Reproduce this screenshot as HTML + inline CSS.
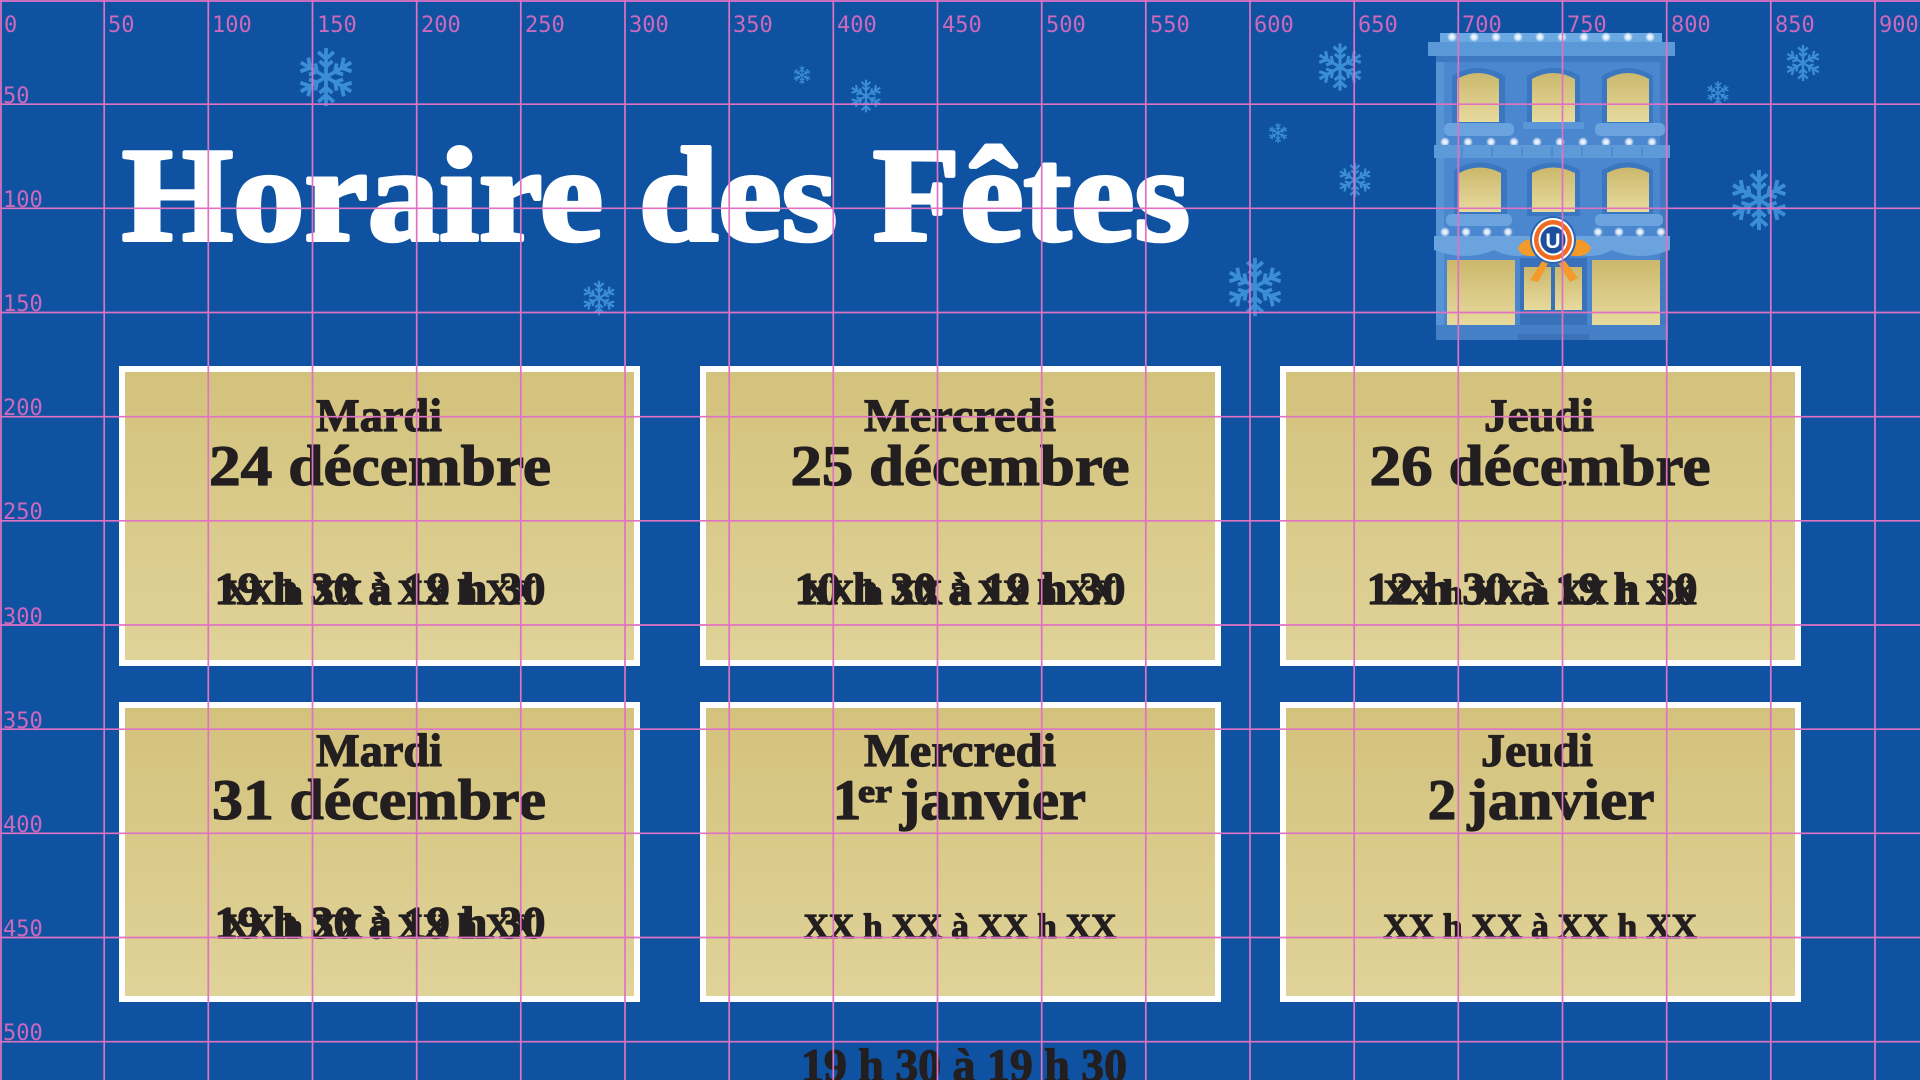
<!DOCTYPE html>
<html>
<head>
<meta charset="utf-8">
<style>
  html,body{margin:0;padding:0;background:#0f52a1;}
  svg{display:block;}
</style>
</head>
<body>
<svg width="1920" height="1080" viewBox="0 0 1920 1080" xmlns="http://www.w3.org/2000/svg">
  <defs>
    <linearGradient id="gold" x1="0" y1="0" x2="0" y2="1">
      <stop offset="0" stop-color="#d3c27c"/>
      <stop offset="1" stop-color="#e0d399"/>
    </linearGradient>
    <linearGradient id="win" x1="0" y1="0" x2="0" y2="1">
      <stop offset="0" stop-color="#cbb86c"/>
      <stop offset="1" stop-color="#e7da9e"/>
    </linearGradient>
    <radialGradient id="glow">
      <stop offset="0" stop-color="#ffffff"/>
      <stop offset="0.5" stop-color="#f4f8ff" stop-opacity="0.8"/>
      <stop offset="1" stop-color="#ffffff" stop-opacity="0"/>
    </radialGradient>
    <symbol id="sf" viewBox="-1.1 -1.1 2.2 2.2">
      <g stroke="#3a8dd6" stroke-width="0.13" stroke-linecap="butt" fill="none">
        <g id="arm">
          <path d="M0,0 L0,-1 M0,-0.62 L-0.27,-0.86 M0,-0.62 L0.27,-0.86 M0,-0.36 L-0.22,-0.55 M0,-0.36 L0.22,-0.55"/>
        </g>
        <use href="#arm" transform="rotate(60)"/>
        <use href="#arm" transform="rotate(120)"/>
        <use href="#arm" transform="rotate(180)"/>
        <use href="#arm" transform="rotate(240)"/>
        <use href="#arm" transform="rotate(300)"/>
      </g>
    </symbol>
  </defs>

  <rect x="0" y="0" width="1920" height="1080" fill="#0f52a1"/>

  <!-- snowflakes -->
  <use href="#sf" x="294" y="45" width="64" height="64"/>
  <use href="#sf" x="580" y="279" width="38" height="38"/>
  <use href="#sf" x="792" y="65" width="20" height="20"/>
  <use href="#sf" x="848" y="78" width="36" height="36"/>
  <use href="#sf" x="1314" y="41" width="52" height="52"/>
  <use href="#sf" x="1267" y="122" width="22" height="22"/>
  <use href="#sf" x="1336" y="161" width="38" height="38"/>
  <use href="#sf" x="1223" y="255" width="64" height="64"/>
  <use href="#sf" x="1726" y="167" width="66" height="66"/>
  <use href="#sf" x="1783" y="43" width="40" height="40"/>
  <use href="#sf" x="1705" y="80" width="26" height="26"/>

  <!-- title -->
  <text x="122" y="240" font-family="'Liberation Serif', serif" font-weight="bold" font-size="134" fill="#ffffff" stroke="#ffffff" stroke-width="4" stroke-linejoin="round" textLength="1068" lengthAdjust="spacingAndGlyphs">Horaire des Fêtes</text>

  <!-- building -->
  <g>
    <rect x="1436" y="55" width="232" height="285" fill="#4a87cf"/>
    <rect x="1436" y="55" width="8" height="285" fill="#5694d6"/>
    <rect x="1660" y="55" width="8" height="285" fill="#3f79c0"/>
    <rect x="1440" y="33" width="222" height="10" fill="#6aa8e2"/>
    <rect x="1428" y="42" width="247" height="14" fill="#5b98d8"/>
    <rect x="1436" y="56" width="232" height="6" fill="#3e79c1"/>
    <g fill="url(#glow)">
      <circle cx="1452" cy="37" r="5"/><circle cx="1474" cy="37" r="5"/><circle cx="1496" cy="37" r="5"/>
      <circle cx="1518" cy="37" r="5"/><circle cx="1540" cy="37" r="5"/><circle cx="1562" cy="37" r="5"/>
      <circle cx="1584" cy="37" r="5"/><circle cx="1606" cy="37" r="5"/><circle cx="1628" cy="37" r="5"/>
      <circle cx="1650" cy="37" r="5"/>
    </g>
    <g fill="#3b77c0">
      <path d="M1452,126 L1452,76 Q1478,60 1505,76 L1505,126 Z"/>
      <path d="M1527,126 L1527,76 Q1553,60 1580,76 L1580,126 Z"/>
      <path d="M1602,126 L1602,76 Q1628,60 1653,76 L1653,126 Z"/>
    </g>
    <g fill="url(#win)">
      <path d="M1457,122 L1457,79 Q1478,67 1499,79 L1499,122 Z"/>
      <path d="M1532,122 L1532,79 Q1553,67 1575,79 L1575,122 Z"/>
      <path d="M1607,122 L1607,79 Q1628,67 1649,79 L1649,122 Z"/>
    </g>
    <rect x="1523" y="122" width="61" height="7" fill="#5a97d8"/>
    <rect x="1444" y="123" width="70" height="13" rx="5" fill="#6aa3dd"/>
    <rect x="1595" y="123" width="70" height="13" rx="5" fill="#6aa3dd"/>
    <g fill="url(#glow)">
      <circle cx="1445" cy="142" r="5"/><circle cx="1468" cy="142" r="5"/><circle cx="1491" cy="142" r="5"/>
      <circle cx="1514" cy="142" r="5"/><circle cx="1537" cy="142" r="5"/><circle cx="1560" cy="142" r="5"/>
      <circle cx="1583" cy="142" r="5"/><circle cx="1606" cy="142" r="5"/><circle cx="1629" cy="142" r="5"/>
      <circle cx="1652" cy="142" r="5"/>
    </g>
    <rect x="1434" y="145" width="236" height="13" fill="#5e9ad8"/>
    <g stroke="#4a86cc" stroke-width="1.5">
      <line x1="1462" y1="147" x2="1462" y2="157"/><line x1="1492" y1="147" x2="1492" y2="157"/>
      <line x1="1522" y1="147" x2="1522" y2="157"/><line x1="1552" y1="147" x2="1552" y2="157"/>
      <line x1="1582" y1="147" x2="1582" y2="157"/><line x1="1612" y1="147" x2="1612" y2="157"/>
      <line x1="1642" y1="147" x2="1642" y2="157"/>
    </g>
    <g fill="#3b77c0">
      <path d="M1454,216 L1454,170 Q1480,155 1507,170 L1507,216 Z"/>
      <path d="M1527,216 L1527,170 Q1553,155 1580,170 L1580,216 Z"/>
      <path d="M1602,216 L1602,170 Q1628,155 1653,170 L1653,216 Z"/>
    </g>
    <g fill="url(#win)">
      <path d="M1459,212 L1459,173 Q1480,162 1501,173 L1501,212 Z"/>
      <path d="M1532,212 L1532,173 Q1553,162 1575,173 L1575,212 Z"/>
      <path d="M1607,212 L1607,173 Q1628,162 1649,173 L1649,212 Z"/>
    </g>
    <rect x="1446" y="214" width="66" height="12" rx="5" fill="#6aa3dd"/>
    <rect x="1595" y="214" width="68" height="12" rx="5" fill="#6aa3dd"/>
    <path d="M1434,236 L1670,236 L1670,250 Q1640,262 1612,250 Q1590,262 1568,250 L1540,250 Q1518,262 1494,250 Q1466,262 1434,250 Z" fill="#6aa3dd"/>
    <g fill="url(#glow)">
      <circle cx="1445" cy="232" r="5"/><circle cx="1466" cy="232" r="5"/><circle cx="1487" cy="232" r="5"/>
      <circle cx="1508" cy="232" r="5"/><circle cx="1598" cy="232" r="5"/><circle cx="1619" cy="232" r="5"/>
      <circle cx="1640" cy="232" r="5"/><circle cx="1661" cy="232" r="5"/>
    </g>
    <rect x="1447" y="260" width="68" height="65" fill="url(#win)"/>
    <rect x="1592" y="260" width="68" height="65" fill="url(#win)"/>
    <rect x="1520" y="258" width="67" height="79" fill="#3a72ba"/>
    <rect x="1524" y="267" width="27" height="43" fill="url(#win)"/>
    <rect x="1555" y="267" width="27" height="43" fill="url(#win)"/>
    <rect x="1436" y="325" width="232" height="15" fill="#4580c7"/>
    <rect x="1518" y="334" width="71" height="6" fill="#3b72b8"/>
    <g fill="#f39a2b">
      <path d="M1550,246 Q1525,232 1518,248 Q1522,262 1550,252 Z"/>
      <path d="M1556,246 Q1582,232 1591,248 Q1586,262 1556,252 Z"/>
      <path d="M1548,252 L1530,280 L1538,282 L1552,256 Z"/>
      <path d="M1558,252 L1578,278 L1570,282 L1554,256 Z"/>
    </g>
    <ellipse cx="1553" cy="240" rx="23" ry="24" fill="#2d66b4"/>
    <ellipse cx="1553" cy="240" rx="21" ry="22" fill="#ffffff"/>
    <ellipse cx="1553" cy="240" rx="19" ry="20" fill="#ee6b1f"/>
    <ellipse cx="1553" cy="240" rx="14.5" ry="15.5" fill="#ffffff"/>
    <ellipse cx="1553" cy="240" rx="12.5" ry="13.5" fill="#1c509e"/>
    <text x="1553" y="248" text-anchor="middle" font-family="'Liberation Sans', sans-serif" font-weight="bold" font-size="21" fill="#ffffff">U</text>
  </g>

  <!-- cards -->
  <g stroke="#ffffff" stroke-width="6" fill="url(#gold)">
    <rect x="122" y="369" width="515" height="294"/>
    <rect x="703" y="369" width="515" height="294"/>
    <rect x="1283" y="369" width="515" height="294"/>
    <rect x="122" y="705" width="515" height="294"/>
    <rect x="703" y="705" width="515" height="294"/>
    <rect x="1283" y="705" width="515" height="294"/>
  </g>

  <g font-family="'Liberation Serif', serif" font-weight="bold" fill="#231f20" stroke="#231f20" stroke-width="1.2" stroke-linejoin="round" text-anchor="middle">
    <text x="379" y="431" font-size="47" textLength="126" lengthAdjust="spacingAndGlyphs">Mardi</text>
    <text x="380" y="485" font-size="57" textLength="342" lengthAdjust="spacingAndGlyphs">24 décembre</text>
    <text x="380" y="604" font-size="46" textLength="331" lengthAdjust="spacingAndGlyphs">19 h 30 à 19 h 30</text>
    <text x="380" y="604" font-size="35" textLength="313" lengthAdjust="spacingAndGlyphs">XX h XX à XX h XX</text>

    <text x="960" y="431" font-size="47" textLength="192" lengthAdjust="spacingAndGlyphs">Mercredi</text>
    <text x="960" y="485" font-size="57" textLength="339" lengthAdjust="spacingAndGlyphs">25 décembre</text>
    <text x="960" y="604" font-size="46" textLength="331" lengthAdjust="spacingAndGlyphs">10 h 30 à 19 h 30</text>
    <text x="960" y="604" font-size="35" textLength="313" lengthAdjust="spacingAndGlyphs">XX h XX à XX h XX</text>

    <text x="1539" y="431" font-size="47" textLength="110" lengthAdjust="spacingAndGlyphs">Jeudi</text>
    <text x="1540" y="485" font-size="57" textLength="341" lengthAdjust="spacingAndGlyphs">26 décembre</text>
    <text x="1532" y="604" font-size="46" textLength="331" lengthAdjust="spacingAndGlyphs">12 h 30 à 19 h 30</text>
    <text x="1540" y="604" font-size="35" textLength="313" lengthAdjust="spacingAndGlyphs">XX h XX à XX h XX</text>

    <text x="379" y="766" font-size="47" textLength="126" lengthAdjust="spacingAndGlyphs">Mardi</text>
    <text x="379" y="819" font-size="57" textLength="334" lengthAdjust="spacingAndGlyphs">31 décembre</text>
    <text x="380" y="938" font-size="46" textLength="331" lengthAdjust="spacingAndGlyphs">19 h 30 à 19 h 30</text>
    <text x="380" y="938" font-size="35" textLength="313" lengthAdjust="spacingAndGlyphs">XX h XX à XX h XX</text>

    <text x="960" y="766" font-size="47" textLength="192" lengthAdjust="spacingAndGlyphs">Mercredi</text>
    <text x="847" y="819" font-size="57">1</text>
    <text x="875" y="802" font-size="32" textLength="34" lengthAdjust="spacingAndGlyphs">er</text>
    <text x="993" y="819" font-size="57" textLength="186" lengthAdjust="spacingAndGlyphs">janvier</text>
    <text x="960" y="938" font-size="35" textLength="313" lengthAdjust="spacingAndGlyphs">XX h XX à XX h XX</text>

    <text x="1537" y="766" font-size="47" textLength="112" lengthAdjust="spacingAndGlyphs">Jeudi</text>
    <text x="1442" y="819" font-size="57">2</text>
    <text x="1561" y="819" font-size="57" textLength="187" lengthAdjust="spacingAndGlyphs">janvier</text>
    <text x="1540" y="938" font-size="35" textLength="314" lengthAdjust="spacingAndGlyphs">XX h XX à XX h XX</text>

    <text x="964" y="1081" font-size="47" textLength="326" lengthAdjust="spacingAndGlyphs">19 h 30 à 19 h 30</text>
  </g>

  <!-- grid -->
  <g stroke="#e072c4" stroke-width="1.7">
    <line x1="1" y1="0" x2="1" y2="1080"/>
    <line x1="104.2" y1="0" x2="104.2" y2="1080"/>
    <line x1="208.3" y1="0" x2="208.3" y2="1080"/>
    <line x1="312.5" y1="0" x2="312.5" y2="1080"/>
    <line x1="416.7" y1="0" x2="416.7" y2="1080"/>
    <line x1="520.8" y1="0" x2="520.8" y2="1080"/>
    <line x1="625" y1="0" x2="625" y2="1080"/>
    <line x1="729.2" y1="0" x2="729.2" y2="1080"/>
    <line x1="833.3" y1="0" x2="833.3" y2="1080"/>
    <line x1="937.5" y1="0" x2="937.5" y2="1080"/>
    <line x1="1041.7" y1="0" x2="1041.7" y2="1080"/>
    <line x1="1145.8" y1="0" x2="1145.8" y2="1080"/>
    <line x1="1250" y1="0" x2="1250" y2="1080"/>
    <line x1="1354.2" y1="0" x2="1354.2" y2="1080"/>
    <line x1="1458.3" y1="0" x2="1458.3" y2="1080"/>
    <line x1="1562.5" y1="0" x2="1562.5" y2="1080"/>
    <line x1="1666.7" y1="0" x2="1666.7" y2="1080"/>
    <line x1="1770.8" y1="0" x2="1770.8" y2="1080"/>
    <line x1="1875" y1="0" x2="1875" y2="1080"/>
    <line x1="0" y1="1" x2="1920" y2="1"/>
    <line x1="0" y1="104.2" x2="1920" y2="104.2"/>
    <line x1="0" y1="208.3" x2="1920" y2="208.3"/>
    <line x1="0" y1="312.5" x2="1920" y2="312.5"/>
    <line x1="0" y1="416.7" x2="1920" y2="416.7"/>
    <line x1="0" y1="520.8" x2="1920" y2="520.8"/>
    <line x1="0" y1="625" x2="1920" y2="625"/>
    <line x1="0" y1="729.2" x2="1920" y2="729.2"/>
    <line x1="0" y1="833.3" x2="1920" y2="833.3"/>
    <line x1="0" y1="937.5" x2="1920" y2="937.5"/>
    <line x1="0" y1="1041.7" x2="1920" y2="1041.7"/>
  </g>
  <g font-family="'DejaVu Sans Mono', monospace" font-size="22" fill="#e26cbf" fill-opacity="0.9">
    <text x="4" y="32">0</text>
    <text x="108" y="32">50</text>
    <text x="212" y="32">100</text>
    <text x="317" y="32">150</text>
    <text x="421" y="32">200</text>
    <text x="525" y="32">250</text>
    <text x="629" y="32">300</text>
    <text x="733" y="32">350</text>
    <text x="837" y="32">400</text>
    <text x="942" y="32">450</text>
    <text x="1046" y="32">500</text>
    <text x="1150" y="32">550</text>
    <text x="1254" y="32">600</text>
    <text x="1358" y="32">650</text>
    <text x="1462" y="32">700</text>
    <text x="1567" y="32">750</text>
    <text x="1671" y="32">800</text>
    <text x="1775" y="32">850</text>
    <text x="1879" y="32">900</text>
    <text x="3" y="103">50</text>
    <text x="3" y="207">100</text>
    <text x="3" y="311">150</text>
    <text x="3" y="415">200</text>
    <text x="3" y="519">250</text>
    <text x="3" y="624">300</text>
    <text x="3" y="728">350</text>
    <text x="3" y="832">400</text>
    <text x="3" y="936">450</text>
    <text x="3" y="1040">500</text>
  </g>
</svg>
</body>
</html>
